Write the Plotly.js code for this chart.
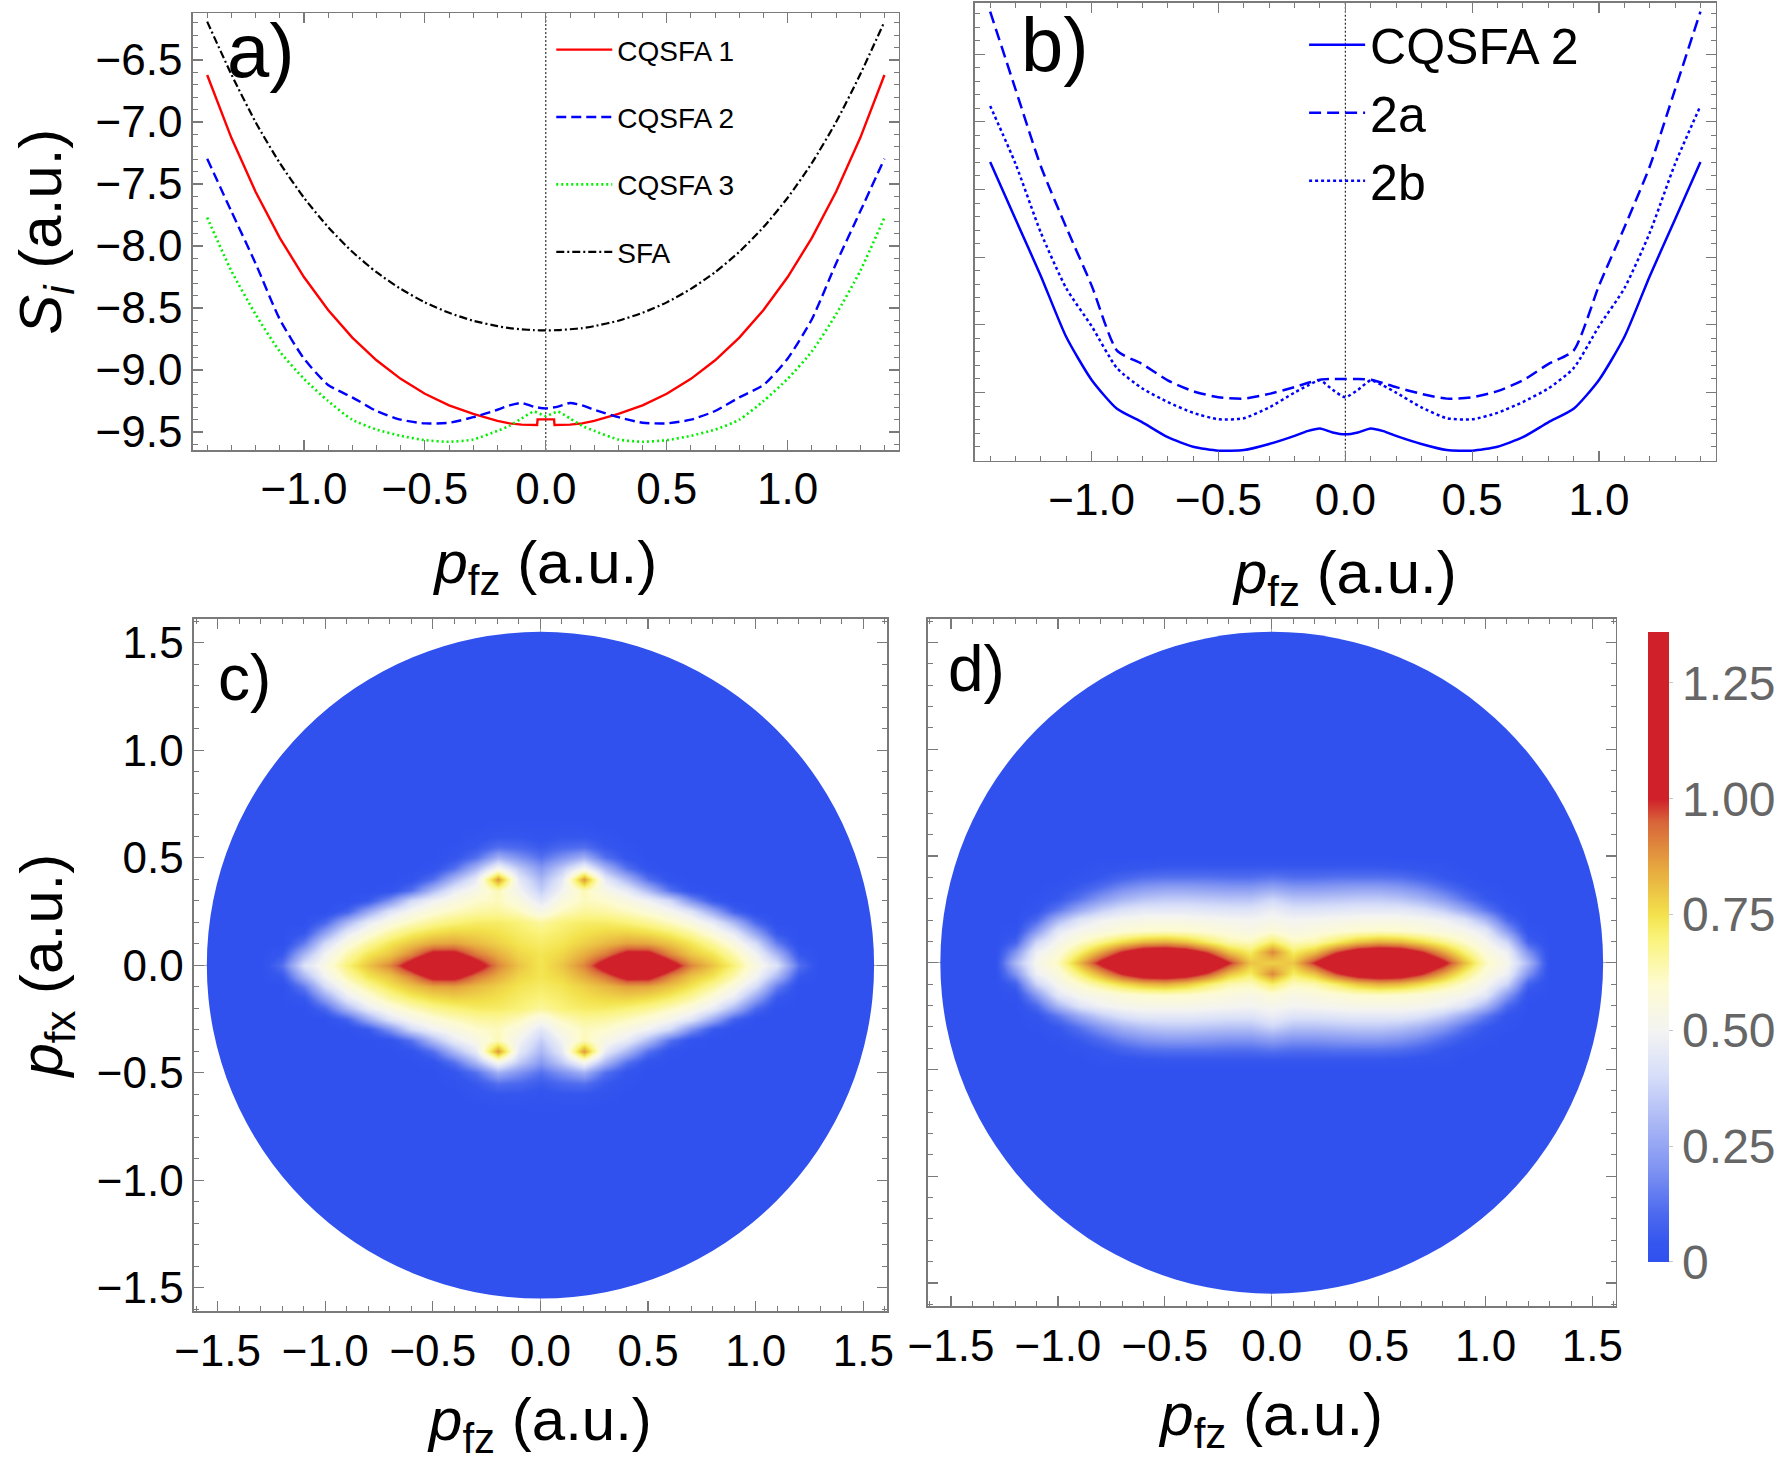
<!DOCTYPE html>
<html>
<head>
<meta charset="utf-8">
<script src="https://cdn.plot.ly/plotly-3.0.1.min.js"></script>
<style>
  html, body { margin: 0; padding: 0; background: #fff; }
  #fig { width: 1784px; height: 1465px; }
</style>
</head>
<body>
<div id="fig"></div>
<script>
// ---------- (a), (b): imaginary part of the action vs. final momentum p_fz ----------
const PZ = [-1.4,-1.3,-1.2,-1.1,-1.0,-0.9,-0.8,-0.7,-0.6,-0.5,-0.4,-0.3,-0.2,-0.15,-0.1,-0.05,0,
            0.05,0.1,0.15,0.2,0.3,0.4,0.5,0.6,0.7,0.8,0.9,1.0,1.1,1.2,1.3,1.4];

const S_SFA = [-6.19,-6.615,-7.0,-7.33,-7.61,-7.847,-8.046,-8.211,-8.345,-8.454,-8.538,-8.602,-8.646,-8.662,-8.671,-8.678,-8.68,
               -8.678,-8.671,-8.662,-8.646,-8.602,-8.538,-8.454,-8.345,-8.211,-8.046,-7.847,-7.61,-7.33,-7.0,-6.615,-6.19];

const PZ_CQSFA1 = [-1.4,-1.3,-1.2,-1.1,-1.0,-0.9,-0.8,-0.7,-0.6,-0.5,-0.4,-0.3,-0.2,-0.15,-0.1,-0.05,-0.036,-0.034,0,
                   0.034,0.036,0.05,0.1,0.15,0.2,0.3,0.4,0.5,0.6,0.7,0.8,0.9,1.0,1.1,1.2,1.3,1.4];
const S_CQSFA1 = [-6.62,-7.127,-7.562,-7.934,-8.25,-8.515,-8.738,-8.921,-9.071,-9.191,-9.284,-9.354,-9.41,-9.43,-9.44,-9.443,-9.443,-9.398,-9.398,
                  -9.398,-9.443,-9.443,-9.44,-9.43,-9.41,-9.354,-9.284,-9.191,-9.071,-8.921,-8.738,-8.515,-8.25,-7.934,-7.562,-7.127,-6.62];

const S_CQSFA2 = [-7.296,-7.72,-8.14,-8.59,-8.907,-9.12,-9.22,-9.33,-9.40,-9.43,-9.425,-9.38,-9.32,-9.285,-9.265,-9.295,-9.309,
                  -9.295,-9.265,-9.285,-9.32,-9.38,-9.425,-9.43,-9.40,-9.33,-9.22,-9.12,-8.907,-8.59,-8.14,-7.72,-7.296];

const S_CQSFA3 = [-7.77,-8.2,-8.55,-8.85,-9.07,-9.25,-9.40,-9.48,-9.53,-9.565,-9.578,-9.56,-9.49,-9.45,-9.39,-9.336,-9.37,
                  -9.336,-9.39,-9.45,-9.49,-9.56,-9.578,-9.565,-9.53,-9.48,-9.40,-9.25,-9.07,-8.85,-8.55,-8.2,-7.77];

const S_CQSFA2A = [-6.185,-6.76,-7.33,-7.78,-8.21,-8.69,-8.79,-8.91,-8.99,-9.035,-9.045,-9.01,-8.96,-8.93,-8.905,-8.90,-8.90,
                   -8.90,-8.905,-8.93,-8.96,-9.01,-9.045,-9.035,-8.99,-8.91,-8.79,-8.69,-8.21,-7.78,-7.33,-6.76,-6.185];

const S_CQSFA2B = [-6.882,-7.31,-7.82,-8.23,-8.51,-8.82,-8.97,-9.07,-9.15,-9.198,-9.19,-9.11,-9.0,-8.95,-8.91,-8.98,-9.035,
                   -8.98,-8.91,-8.95,-9.0,-9.11,-9.19,-9.198,-9.15,-9.07,-8.97,-8.82,-8.51,-8.23,-7.82,-7.31,-6.882];

// ---------- (c), (d): ionization-rate maps, quadrant pz >= 0, px >= 0 ----------
const MAP_PZ_C = [0,0.1,0.2,0.3,0.4,0.5,0.6,0.7,0.8,0.9,1.0,1.1,1.2,1.3];
const MAP_PX_C = [0,0.05,0.1,0.15,0.2,0.25,0.3,0.35,0.4,0.45,0.5,0.55,0.6,0.65,0.7];
const MAP_C = [
  [0.74,0.80,0.90,1.08,1.30,1.30,1.08,0.90,0.80,0.70,0.55,0.42,0.12,0],
  [0.74,0.77,0.84,0.92,1.05,1.05,0.90,0.80,0.74,0.64,0.50,0.30,0.05,0],
  [0.72,0.74,0.78,0.82,0.86,0.85,0.80,0.74,0.66,0.56,0.40,0.15,0,0],
  [0.70,0.72,0.75,0.77,0.78,0.76,0.72,0.66,0.57,0.46,0.25,0.05,0,0],
  [0.66,0.70,0.72,0.72,0.70,0.67,0.62,0.56,0.46,0.30,0.10,0,0,0],
  [0.54,0.62,0.66,0.65,0.62,0.58,0.52,0.43,0.26,0.08,0,0,0,0],
  [0.44,0.56,0.62,0.60,0.55,0.49,0.39,0.20,0.05,0,0,0,0,0],
  [0.36,0.50,0.63,0.54,0.46,0.31,0.12,0.02,0,0,0,0,0,0],
  [0.30,0.45,0.88,0.46,0.30,0.12,0.02,0,0,0,0,0,0,0],
  [0.22,0.35,0.52,0.30,0.12,0.02,0,0,0,0,0,0,0,0],
  [0.12,0.20,0.28,0.12,0.03,0,0,0,0,0,0,0,0,0],
  [0.06,0.10,0.12,0.05,0.01,0,0,0,0,0,0,0,0,0],
  [0.02,0.04,0.04,0.02,0,0,0,0,0,0,0,0,0,0],
  [0.01,0.01,0.01,0,0,0,0,0,0,0,0,0,0,0],
  [0,0,0,0,0,0,0,0,0,0,0,0,0,0]
];

const MAP_PZ_D = [0,0.1,0.2,0.3,0.4,0.5,0.6,0.7,0.8,0.9,1.0,1.1,1.2,1.3];
const MAP_PX_D = [0,0.05,0.1,0.15,0.2,0.25,0.3,0.35,0.4,0.45,0.5];
const MAP_D = [
  [0.78,0.80,1.00,1.20,1.30,1.36,1.32,1.20,1.04,0.82,0.62,0.52,0.30,0],
  [0.90,0.72,0.80,0.97,1.08,1.12,1.10,1.00,0.85,0.70,0.57,0.48,0.20,0],
  [0.72,0.62,0.64,0.72,0.80,0.84,0.82,0.76,0.68,0.60,0.52,0.38,0.08,0],
  [0.58,0.54,0.56,0.58,0.60,0.61,0.60,0.58,0.55,0.52,0.45,0.22,0.02,0],
  [0.52,0.50,0.51,0.52,0.53,0.53,0.53,0.52,0.49,0.43,0.30,0.10,0,0],
  [0.47,0.43,0.43,0.44,0.45,0.45,0.45,0.42,0.36,0.26,0.14,0.03,0,0],
  [0.38,0.33,0.33,0.34,0.35,0.35,0.33,0.29,0.22,0.13,0.05,0.01,0,0],
  [0.25,0.22,0.22,0.23,0.24,0.24,0.22,0.18,0.12,0.06,0.02,0,0,0],
  [0.14,0.12,0.12,0.13,0.13,0.13,0.12,0.09,0.05,0.02,0,0,0,0],
  [0.05,0.05,0.05,0.05,0.05,0.05,0.04,0.03,0.02,0,0,0,0,0],
  [0,0,0,0,0,0,0,0,0,0,0,0,0,0]
];

const DISK_RADIUS = 1.55;          // momentum region covered by the maps
const RATE_MAX = 1.36;
const CBAR_TICKS = [0, 0.25, 0.5, 0.75, 1.0, 1.25];
const CBAR_LABELS = ['0', '0.25', '0.50', '0.75', '1.00', '1.25'];

// ---------- helpers ----------
// full symmetric axis from its non-negative half
function mirrorAxis(half) {
  return half.slice(1).map(v => -v).reverse().concat(half);
}
// full symmetric map from its first quadrant (rows: px, columns: pz)
function mirrorMap(q) {
  const rows = q.slice(1).reverse().concat(q);
  return rows.map(r => r.slice(1).reverse().concat(r));
}

const FONT = 'Liberation Sans, Arial, Helvetica, sans-serif';
const FRAME = '#7a7a7a';
const DISK_BLUE = '#3051ee';

function frameAxis(extra) {
  return Object.assign({
    showline: true, linecolor: FRAME, linewidth: 1.5, mirror: 'ticks',
    ticks: 'inside', ticklen: 10, tickwidth: 1.2, tickcolor: FRAME,
    showgrid: false, zeroline: false, dtick: 0.5, tick0: 0, tickformat: '.1f',
    tickfont: { family: FONT, size: 44, color: '#000' },
    minor: { ticks: 'inside', ticklen: 5, tickwidth: 1, tickcolor: FRAME, dtick: 0.1, showgrid: false },
    fixedrange: true
  }, extra);
}

const X_TITLE = '<i>p</i><sub>fz</sub> (a.u.)';

const traces = [
  // panel (a)
  { x: PZ_CQSFA1, y: S_CQSFA1, name: 'CQSFA 1', type: 'scatter', mode: 'lines', xaxis: 'x', yaxis: 'y',
    line: { color: '#ff0000', width: 2.4 }, legend: 'legend', legendgroup: 'a1' },
  { x: PZ, y: S_CQSFA2, name: 'CQSFA 2', type: 'scatter', mode: 'lines', xaxis: 'x', yaxis: 'y',
    line: { color: '#0000ff', width: 2.4, dash: '10px,5px', shape: 'spline', smoothing: 0.6 }, legend: 'legend', legendgroup: 'a2' },
  { x: PZ, y: S_CQSFA3, name: 'CQSFA 3', type: 'scatter', mode: 'lines', xaxis: 'x', yaxis: 'y',
    line: { color: '#00f000', width: 2.6, dash: '2px,3px', shape: 'spline', smoothing: 0.6 }, legend: 'legend', legendgroup: 'a3' },
  { x: PZ, y: S_SFA, name: 'SFA', type: 'scatter', mode: 'lines', xaxis: 'x', yaxis: 'y',
    line: { color: '#000000', width: 2.2, dash: '8px,3px,2px,3px', shape: 'spline', smoothing: 0.6 }, legend: 'legend', legendgroup: 'a4' },
  // panel (b)
  { x: PZ, y: S_CQSFA2, name: 'CQSFA 2', type: 'scatter', mode: 'lines', xaxis: 'x2', yaxis: 'y2',
    line: { color: '#0000ff', width: 2.5, shape: 'spline', smoothing: 0.6 }, legend: 'legend2', legendgroup: 'b1' },
  { x: PZ, y: S_CQSFA2A, name: '2a', type: 'scatter', mode: 'lines', xaxis: 'x2', yaxis: 'y2',
    line: { color: '#0000ff', width: 2.5, dash: '12px,6px', shape: 'spline', smoothing: 0.6 }, legend: 'legend2', legendgroup: 'b2' },
  { x: PZ, y: S_CQSFA2B, name: '2b', type: 'scatter', mode: 'lines', xaxis: 'x2', yaxis: 'y2',
    line: { color: '#0000ff', width: 2.5, dash: '3px,3px', shape: 'spline', smoothing: 0.6 }, legend: 'legend2', legendgroup: 'b3' },
  // panel (c)
  { type: 'heatmap', x: mirrorAxis(MAP_PZ_C), y: mirrorAxis(MAP_PX_C), z: mirrorMap(MAP_C),
    coloraxis: 'coloraxis', zsmooth: 'best', xaxis: 'x3', yaxis: 'y3', showlegend: false, hoverinfo: 'skip' },
  // panel (d)
  { type: 'heatmap', x: mirrorAxis(MAP_PZ_D), y: mirrorAxis(MAP_PX_D), z: mirrorMap(MAP_D),
    coloraxis: 'coloraxis', zsmooth: 'best', xaxis: 'x4', yaxis: 'y4', showlegend: false, hoverinfo: 'skip' }
];

function disk(xr, yr) {
  return { type: 'circle', xref: xr, yref: yr, x0: -DISK_RADIUS, x1: DISK_RADIUS, y0: -DISK_RADIUS, y1: DISK_RADIUS,
           fillcolor: DISK_BLUE, line: { width: 0 }, layer: 'between' };
}
function centreLine(xr, yr) {
  return { type: 'line', xref: xr, yref: yr + ' domain', x0: 0, x1: 0, y0: 0, y1: 1,
           line: { color: '#000', width: 1, dash: '2px,2px' }, layer: 'below' };
}
function panelLabel(text, x, y, size) {
  return { text: text, xref: 'paper', yref: 'paper', x: x, y: y, xanchor: 'left', yanchor: 'top',
           showarrow: false, font: { family: FONT, size: size, color: '#000' } };
}

const layout = {
  width: 1784, height: 1465,
  margin: { l: 0, r: 0, t: 0, b: 0 },
  paper_bgcolor: '#fff', plot_bgcolor: 'rgba(0,0,0,0)',
  font: { family: FONT, color: '#000' },
  showlegend: true,
  xaxis: frameAxis({ domain: [0.1080, 0.5039], range: [-1.46, 1.46], anchor: 'y',
    title: { text: X_TITLE, font: { family: FONT, size: 60 }, standoff: 28 } }),
  yaxis: frameAxis({ domain: [0.6928, 0.9909], range: [-9.645, -6.123], anchor: 'x',
    title: { text: '<i>S</i><sub><i>i</i></sub> (a.u.)', font: { family: FONT, size: 60 }, standoff: 14 } }),
  xaxis2: frameAxis({ domain: [0.5465, 0.9617], range: [-1.46, 1.46], anchor: 'y2',
    title: { text: X_TITLE, font: { family: FONT, size: 60 }, standoff: 28 } }),
  yaxis2: frameAxis({ domain: [0.6855, 0.9982], range: [-9.504, -6.119], anchor: 'x2', showticklabels: false }),
  xaxis3: frameAxis({ domain: [0.1087, 0.4972], range: [-1.61, 1.61], anchor: 'y3',
    zeroline: true, zerolinecolor: '#b0b0b0', zerolinewidth: 1,
    title: { text: X_TITLE, font: { family: FONT, size: 60 }, standoff: 24 } }),
  yaxis3: frameAxis({ domain: [0.1048, 0.5775], range: [-1.61, 1.61], anchor: 'x3',
    zeroline: true, zerolinecolor: '#b0b0b0', zerolinewidth: 1,
    title: { text: '<i>p</i><sub>fx</sub> (a.u.)', font: { family: FONT, size: 60 }, standoff: 14 } }),
  xaxis4: frameAxis({ domain: [0.5199, 0.9058], range: [-1.61, 1.61], anchor: 'y4',
    zeroline: true, zerolinecolor: '#b0b0b0', zerolinewidth: 1,
    title: { text: X_TITLE, font: { family: FONT, size: 60 }, standoff: 24 } }),
  yaxis4: frameAxis({ domain: [0.1082, 0.5775], range: [-1.61, 1.61], anchor: 'x4', showticklabels: false,
    zeroline: true, zerolinecolor: '#b0b0b0', zerolinewidth: 1 }),
  coloraxis: {
    cmin: 0, cmax: RATE_MAX,
    colorscale: [
      [0, DISK_BLUE], [0.03, '#3556ee'], [0.0735, '#4a68ef'], [0.147, '#7f93f2'], [0.22, '#aab7f5'],
      [0.294, '#d6ddf9'], [0.368, '#f4f4f2'], [0.441, '#fdfbd0'], [0.515, '#faf37a'], [0.551, '#f3e24c'],
      [0.625, '#e6a83f'], [0.699, '#d8643a'], [0.735, '#d0202a'], [1, '#d0202a']
    ],
    colorbar: {
      x: 0.9238, xanchor: 'left', xpad: 0, y: 0.3536, yanchor: 'middle', ypad: 0,
      len: 630, lenmode: 'pixels', thickness: 21, thicknessmode: 'pixels', outlinewidth: 0,
      tickvals: CBAR_TICKS, ticktext: CBAR_LABELS, ticks: 'outside', ticklen: 4, tickcolor: '#c8c8c8',
      tickfont: { family: FONT, size: 48, color: '#666' }
    }
  },
  legend: {
    x: 0.309, xanchor: 'left', y: 0.983, yanchor: 'top', bgcolor: 'rgba(0,0,0,0)',
    font: { family: FONT, size: 28, color: '#000' }, itemwidth: 56, tracegroupgap: 28, traceorder: 'grouped'
  },
  legend2: {
    x: 0.731, xanchor: 'left', y: 0.996, yanchor: 'top', bgcolor: 'rgba(0,0,0,0)',
    font: { family: FONT, size: 50, color: '#000' }, itemwidth: 56, tracegroupgap: 0, traceorder: 'grouped'
  },
  shapes: [
    centreLine('x', 'y'), centreLine('x2', 'y2'),
    disk('x3', 'y3'), disk('x4', 'y4')
  ],
  annotations: [
    panelLabel('a)', 0.126, 0.996, 76),
    panelLabel('b)', 0.571, 1.0, 76),
    panelLabel('c)', 0.121, 0.563, 64),
    panelLabel('d)', 0.530, 0.569, 64)
  ]
};

Plotly.newPlot('fig', traces, layout, { staticPlot: true, displayModeBar: false });
</script>
</body>
</html>
